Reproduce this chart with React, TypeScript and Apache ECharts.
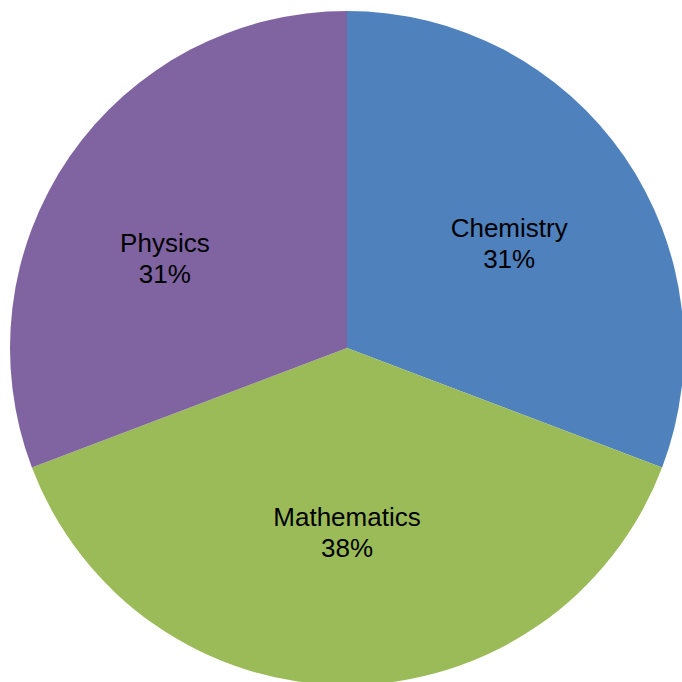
import React, { useEffect, useRef } from "react";
import * as echarts from "echarts";

const categories = ["Chemistry", "Mathematics", "Physics"];
const values = [4, 5, 4];
const colors = ["#4F81BD", "#9BBB59", "#8064A2"];
const labelOffsets: [number, number][] = [
  [21, -7],
  [0, 13],
  [-41, 8],
];

export default function App() {
  const ref = useRef<HTMLDivElement>(null);
  useEffect(() => {
    if (!ref.current) return;
    const chart = echarts.init(ref.current, null, { renderer: "svg" });
    chart.setOption({
      animation: false,
      backgroundColor: "#ffffff",
      series: [
        {
          type: "pie",
          center: [347, 348],
          radius: [0, 337],
          startAngle: 90,
          clockwise: true,
          percentPrecision: 0,
          avoidLabelOverlap: false,
          label: {
            show: true,
            position: "inside",
            formatter: "{b}\n{d}%",
            color: "#000000",
            fontSize: 26,
            lineHeight: 31,
            fontFamily: "Arial, 'Liberation Sans', sans-serif",
            align: "center",
          },
          labelLine: { show: false },
          emphasis: { disabled: true },
          itemStyle: { borderWidth: 0 },
          data: categories.map((name, i) => ({
            name,
            value: values[i],
            itemStyle: { color: colors[i] },
            label: { offset: labelOffsets[i] },
          })),
        },
      ],
    });
    return () => chart.dispose();
  }, []);
  return (
    <div
      ref={ref}
      style={{ position: "absolute", left: 0, top: 0, width: 682, height: 682 }}
    />
  );
}
